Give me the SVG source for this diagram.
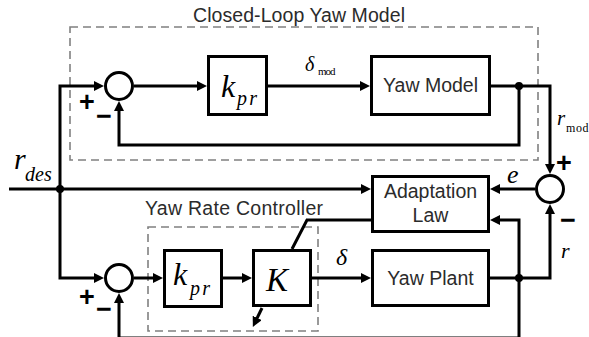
<svg xmlns="http://www.w3.org/2000/svg" width="589" height="337" viewBox="0 0 589 337">
  <style>
    .blk { fill: #fff; stroke: #000; stroke-width: 3; }
    .sum { fill: #fff; stroke: #000; stroke-width: 3; }
    .wire { fill: none; stroke: #000; stroke-width: 3; stroke-linejoin: miter; }
    .arr { marker-end: url(#ah); }
    .dot { fill: #000; }
    .grp { fill: none; stroke: #808080; stroke-width: 1.6; stroke-dasharray: 8 5; }
    .lbl { font-family: "Liberation Sans", Arial, sans-serif; font-size: 19.5px; fill: #2b2b2b; }
    .mid { text-anchor: middle; }
    .math { font-family: "Liberation Serif", "Times New Roman", serif; font-style: italic; fill: #000; }
    .rm { font-family: "Liberation Serif", "Times New Roman", serif; fill: #000; }
    .sgn { font-family: "Liberation Sans", Arial, sans-serif; font-weight: bold; font-size: 27px; fill: #000; text-anchor: middle; }
  </style>
  <defs>
    <marker id="ah" viewBox="0 0 10 10" refX="6" refY="5" markerWidth="10" markerHeight="10" markerUnits="userSpaceOnUse" orient="auto">
      <path d="M0,0 L10,5 L0,10 z" fill="#000"/>
    </marker>
  </defs>

  <!-- grouping frames -->
  <g id="closed-loop-frame">
    <rect class="grp" x="70" y="27" width="468" height="133"/>
    <text class="lbl" x="193" y="22" textLength="212" lengthAdjust="spacing">Closed-Loop Yaw Model</text>
  </g>
  <g id="controller-frame">
    <rect class="grp" x="148" y="227" width="170" height="104"/>
    <text class="lbl" x="145" y="215" textLength="178" lengthAdjust="spacing">Yaw Rate Controller</text>
  </g>

  <!-- connectors -->
  <g id="connectors">
    <path class="wire arr" d="M9,189 H367"/>
    <path class="wire arr" d="M60,189 V86 H100"/>
    <path class="wire arr" d="M60,189 V278 H100"/>
    <path class="wire arr" d="M134,86 H203"/>
    <path class="wire arr" d="M268,86 H366"/>
    <path class="wire arr" d="M491,86 H550 V170"/>
    <path class="wire arr" d="M519,86 V145 H119 V105"/>
    <path class="wire arr" d="M535,189 H494"/>
    <path class="wire arr" d="M134,278 H159"/>
    <path class="wire arr" d="M223,278 H248"/>
    <path class="wire arr" d="M312,278 H367"/>
    <path class="wire arr" d="M490,278 H550 V208"/>
    <path class="wire arr" d="M519,278 V220 H494"/>
    <path class="wire arr" d="M519,278 V338 H119 V297"/>
    <path class="wire" d="M371,220 H307 L292,249"/>
    <path class="wire arr" d="M262,308 L254.6,323.3"/>
    <circle class="dot" cx="60" cy="189" r="4"/>
    <circle class="dot" cx="519" cy="86" r="4"/>
    <circle class="dot" cx="519" cy="278" r="4"/>
  </g>

  <!-- signal labels -->
  <g id="signals">
    <text class="math" x="14" y="169" font-size="30">r</text>
    <text class="math" x="25" y="181" font-size="20">des</text>
    <text class="math" x="305" y="71" font-size="20">δ</text>
    <text class="rm" x="318" y="75" font-size="11" textLength="17.5" lengthAdjust="spacing">mod</text>
    <text class="math" x="557" y="125" font-size="21">r</text>
    <text class="rm" x="566" y="131.5" font-size="12" textLength="22.5" lengthAdjust="spacing">mod</text>
    <text class="math" x="507" y="183" font-size="26">e</text>
    <text class="math" x="336" y="265" font-size="24">δ</text>
    <text class="math" x="561" y="258" font-size="22">r</text>
  </g>

  <!-- summing junctions -->
  <g id="sum-model">
    <circle class="sum" cx="119" cy="86" r="13.5"/>
    <text class="sgn" x="87" y="110.5">+</text>
    <text class="sgn" x="104" y="124.5">−</text>
  </g>
  <g id="sum-controller">
    <circle class="sum" cx="119" cy="278" r="13.5"/>
    <text class="sgn" x="87" y="305.5">+</text>
    <text class="sgn" x="104" y="317.5">−</text>
  </g>
  <g id="sum-error">
    <circle class="sum" cx="550" cy="189" r="13.5"/>
    <text class="sgn" x="564" y="171.5">+</text>
    <text class="sgn" x="568" y="228.5">−</text>
  </g>

  <!-- blocks -->
  <g id="kpr-model">
    <rect class="blk" x="208.5" y="56.5" width="58" height="58"/>
    <text class="math" x="221" y="96.5" font-size="32">k</text>
    <text class="math" x="237" y="105" font-size="20" textLength="20" lengthAdjust="spacing">pr</text>
  </g>
  <g id="yaw-model">
    <rect class="blk" x="371.5" y="56.5" width="118" height="58"/>
    <text class="lbl mid" x="430.5" y="92">Yaw Model</text>
  </g>
  <g id="adaptation-law">
    <rect class="blk" x="372.5" y="176.5" width="116" height="55"/>
    <text class="lbl mid" x="430.5" y="198">Adaptation</text>
    <text class="lbl mid" x="430.5" y="222">Law</text>
  </g>
  <g id="yaw-plant">
    <rect class="blk" x="372.5" y="250.5" width="116" height="55"/>
    <text class="lbl mid" x="430.5" y="285">Yaw Plant</text>
  </g>
  <g id="kpr-controller">
    <rect class="blk" x="164.5" y="250.5" width="57" height="56"/>
    <text class="math" x="173" y="285" font-size="32">k</text>
    <text class="math" x="190" y="295" font-size="20" textLength="20" lengthAdjust="spacing">pr</text>
  </g>
  <g id="gain-K">
    <rect class="blk" x="253.5" y="250.5" width="57" height="55"/>
    <text class="math" x="266" y="291" font-size="33">K</text>
  </g>
</svg>
